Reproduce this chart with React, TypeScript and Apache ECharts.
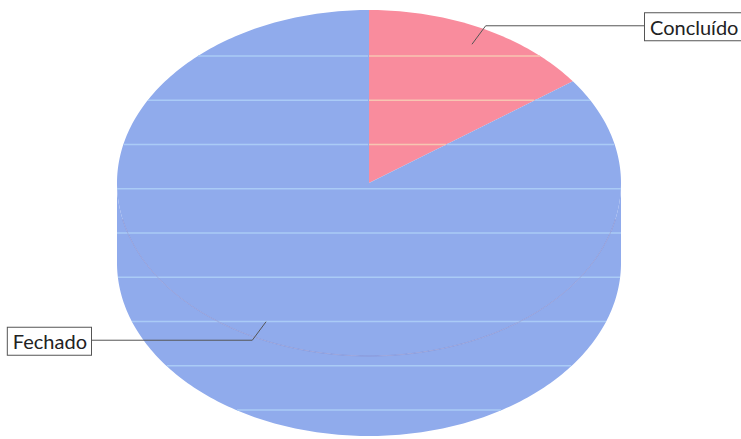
import React, { useEffect, useRef } from "react";
import * as echarts from "echarts";

const categories = ["Concluído", "Fechado"];
const values = [15, 85];
const colors = ["#F98C9D", "#90ABEC"];
const stripeColors = ["#F7C6B2", "#AACBF6"];

export default function App() {
  const ref = useRef<HTMLDivElement>(null);
  useEffect(() => {
    document.body.style.margin = "0";
    const chart = echarts.init(ref.current!, null, { renderer: "svg" });
    const cx = 369, cy = 183, rx = 252, ry = 173, depth = 80;
    const rad = Math.PI / 180;
    const total = values.reduce((a, b) => a + b, 0);
    const slices: { a1: number; a2: number; span: number }[] = [];
    let start = 90;
    values.forEach((v) => {
      const span = (v / total) * 360;
      slices.push({ a1: start, a2: start - span, span });
      start -= span;
    });
    const norm = (a: number) => ((a % 360) + 360) % 360;
    const sliceOf = (t: number) => {
      for (let i = 0; i < slices.length; i++) {
        if (norm(slices[i].a1 - t) < slices[i].span) return i;
      }
      return -1;
    };
    const pt = (t: number, f = 1, dy = 0) => [
      cx + f * rx * Math.cos(t * rad),
      cy - f * ry * Math.sin(t * rad) + dy,
    ];
    const arc = (from: number, to: number, f = 1, dy = 0) => {
      const pts: number[][] = [];
      const n = Math.max(2, Math.ceil(Math.abs(to - from)));
      for (let i = 0; i <= n; i++) pts.push(pt(from + ((to - from) * i) / n, f, dy));
      return pts;
    };
    const frontParts = (a1: number, a2: number) => {
      const parts: [number, number][] = [];
      for (let k = -2; k <= 1; k++) {
        const lo = Math.max(a2, -180 + 360 * k);
        const hi = Math.min(a1, 360 * k);
        if (hi > lo) parts.push([lo, hi]);
      }
      return parts;
    };
    const stripeYs: number[] = [];
    for (let k = 0; k < 9; k++) stripeYs.push(56 + 44.25 * k);
    const stripeSegments = (idx: number) => {
      const segs: number[][][] = [];
      stripeYs.forEach((y) => {
        let runStart: number | null = null;
        for (let x = cx - rx; x <= cx + rx + 1; x += 1) {
          const u = (x - cx) / rx;
          const v = (cy - y) / ry;
          let s = -1;
          if (u * u + v * v <= 1) {
            s = sliceOf(Math.atan2(v, u) / rad);
          } else if (Math.abs(u) <= 1 && y > cy && y <= cy + depth + ry * Math.sqrt(1 - u * u)) {
            s = sliceOf(-Math.acos(u) / rad);
          }
          if (s === idx) {
            if (runStart === null) runStart = x;
          } else if (runStart !== null) {
            segs.push([[runStart, y], [x - 1, y]]);
            runStart = null;
          }
        }
      });
      return segs;
    };

    const renderItem = (params: any) => {
      const i = params.dataIndex;
      const s = slices[i];
      const children: any[] = [];
      frontParts(s.a1, s.a2).forEach(([lo, hi]) => {
        const top = arc(lo, hi);
        const bottom = arc(hi, lo, 1, depth);
        children.push({
          type: "polygon",
          z2: 1,
          shape: { points: top.concat(bottom) },
          style: { fill: colors[i] },
        });
        children.push({
          type: "polyline",
          z2: 4,
          shape: { points: arc(lo + 12, hi - 12) },
          style: { stroke: "rgba(125,105,165,0.3)", lineWidth: 1, fill: "none" },
        });
      });
      children.push({
        type: "polygon",
        z2: 2,
        shape: { points: [[cx, cy]].concat(arc(s.a1, s.a2)) },
        style: { fill: colors[i] },
      });
      stripeSegments(i).forEach((seg) => {
        children.push({
          type: "line",
          z2: 3,
          shape: { x1: seg[0][0], y1: seg[0][1], x2: seg[1][0], y2: seg[1][1] },
          style: { stroke: stripeColors[i], lineWidth: 1.6 },
        });
      });
      const mid = (s.a1 + s.a2) / 2;
      const anchor = pt(mid, 0.9);
      const elbow = pt(mid, 1.02);
      const right = Math.cos(mid * rad) >= 0;
      const endX = right ? 645 : 91;
      children.push({
        type: "polyline",
        z2: 5,
        shape: { points: [anchor, elbow, [endX, elbow[1]]] },
        style: { stroke: "#555", lineWidth: 1, fill: "none" },
      });
      children.push({
        type: "text",
        z2: 6,
        x: endX,
        y: elbow[1] + 1,
        style: {
          text: categories[i],
          font: "20px Lato",
          fill: "#222",
          align: right ? "left" : "right",
          verticalAlign: "middle",
          backgroundColor: "#fff",
          borderColor: "#555",
          borderWidth: 1,
          padding: [4, 4, 3, 5],
        },
      });
      return { type: "group", children };
    };

    chart.setOption({
      animation: false,
      backgroundColor: "#fff",
      series: [
        {
          type: "custom",
          coordinateSystem: "none",
          silent: true,
          data: values.map((v, i) => ({ value: v, name: categories[i] })),
          renderItem,
        },
      ],
    });
    return () => chart.dispose();
  }, []);
  return <div ref={ref} style={{ width: 741, height: 439 }} />;
}
